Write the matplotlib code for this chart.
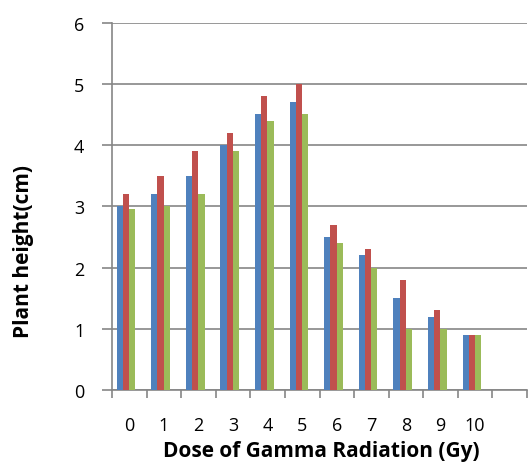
import matplotlib
matplotlib.use("Agg")
import matplotlib.pyplot as plt
import numpy as np

plt.rcParams["font.family"] = ["Open Sans", "DejaVu Sans"]

doses = ["0", "1", "2", "3", "4", "5", "6", "7", "8", "9", "10"]
series_a = [3.0, 3.2, 3.5, 4.0, 4.5, 4.7, 2.5, 2.2, 1.5, 1.2, 0.9]
series_b = [3.2, 3.5, 3.9, 4.2, 4.8, 5.0, 2.7, 2.3, 1.8, 1.3, 0.9]
series_c = [2.95, 3.0, 3.2, 3.9, 4.4, 4.5, 2.4, 2.0, 1.0, 1.0, 0.9]
colors = ["#4F81BD", "#C0504D", "#9BBB59"]

n_slots = 12  # one empty category slot on the right
grid_col = "#868686"

fig = plt.figure(figsize=(5.30, 4.64), dpi=100)
ax = fig.add_axes([112 / 530, 1 - 391 / 464, 415 / 530, 367.5 / 464])

x = np.arange(len(doses))
width = 0.18
shift = -0.095
for j, (vals, col) in enumerate(zip([series_a, series_b, series_c], colors)):
    ax.bar(x + shift + (j - 1) * width, vals, width, color=col, zorder=3)

ax.set_xlim(-0.5, n_slots - 0.5)
ax.set_ylim(0, 6)

ax.set_yticks(range(0, 7))
ax.set_xticks(x)
ax.set_xticklabels(doses)
ax.set_xticks(np.arange(n_slots + 1) - 0.5, minor=True)
ax.tick_params(axis="x", which="major", length=0, labelsize=13, pad=19)
ax.tick_params(axis="x", which="minor", length=6, width=1.2, color=grid_col, direction="out")
ax.tick_params(axis="y", length=7, width=1.2, color=grid_col, labelsize=13, pad=13)

ax.grid(axis="y", color=grid_col, linewidth=1.2, zorder=0)
ax.set_axisbelow(True)
for side in ("top", "right"):
    ax.spines[side].set_visible(False)
for side in ("left", "bottom"):
    ax.spines[side].set_color(grid_col)
    ax.spines[side].set_linewidth(1.2)

fig.text(24 / 530, 1 - 251 / 464, "Plant height(cm)", rotation=90,
         ha="center", va="center", fontsize=15, fontweight="bold")
fig.text(321 / 530, 1 - 452 / 464, "Dose of Gamma Radiation (Gy)",
         ha="center", va="center", fontsize=15, fontweight="bold")

fig.savefig("out.png", dpi=100)
